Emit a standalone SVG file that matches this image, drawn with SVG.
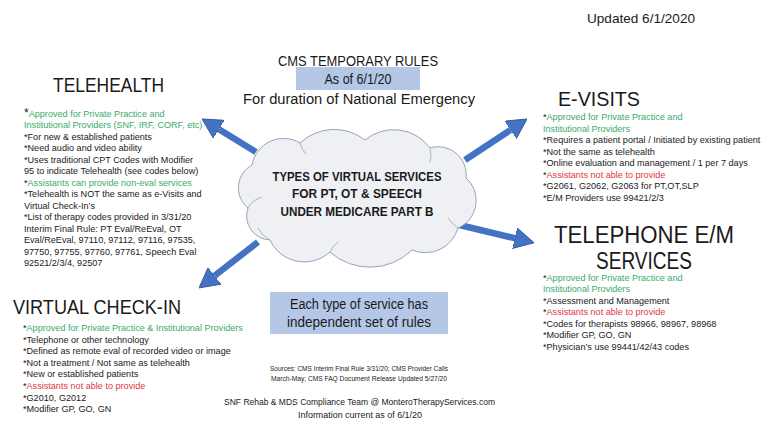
<svg xmlns="http://www.w3.org/2000/svg" width="768" height="432" viewBox="0 0 768 432">
<style>
text{font-family:"Liberation Sans",Arial,sans-serif;fill:#1a1a1a}
.b{font-size:9.1px}
.g{fill:#3aaa6a}
.r{fill:#e0393e}
.h{font-size:21px}
.c{text-anchor:middle}
.cl{font-size:12px;font-weight:bold;text-anchor:middle}
.arr{stroke:#4472c4;stroke-width:6.5;fill:none;marker-end:url(#ah)}
.box{fill:#b4c7e7}
</style>
<defs>
<marker id="ah" viewBox="0 0 10 10" refX="0" refY="5" markerWidth="3.05" markerHeight="3.25" preserveAspectRatio="none" orient="auto">
<path d="M0,0 L10,5 L0,10 Z" fill="#4472c4" stroke="#2f528f" stroke-width="0.4"/>
</marker>
</defs>
<rect width="768" height="432" fill="#ffffff"/>

<g id="connectors">
<line class="arr" x1="256" y1="152" x2="218.9" y2="129.3"/>
<line class="arr" x1="258" y1="242" x2="214.6" y2="275.8"/>
<line class="arr" x1="465" y1="160" x2="510.5" y2="129.9"/>
<line class="arr" x1="447" y1="222" x2="514.8" y2="238.2"/>
</g>

<g id="header">
<text x="641" y="23" font-size="13" class="c" textLength="108" lengthAdjust="spacingAndGlyphs">Updated 6/1/2020</text>
<text x="358" y="66" font-size="14" class="c" textLength="160" lengthAdjust="spacingAndGlyphs">CMS TEMPORARY RULES</text>
<rect class="box" x="296" y="67" width="124" height="23"/>
<text x="358" y="84" font-size="14" class="c" textLength="67" lengthAdjust="spacingAndGlyphs">As of 6/1/20</text>
<text x="359" y="104" font-size="15.5" class="c" textLength="232" lengthAdjust="spacingAndGlyphs">For duration of National Emergency</text>
</g>

<g id="cloud">
<path d="M252,165 A32,32 0 0 1 300,143 A50,50 0 0 1 365,140 A45,45 0 0 1 430,148 A28,28 0 0 1 466,178 A30,30 0 0 1 458,228 A34,34 0 0 1 412,250 A60,60 0 0 1 330,252 A38,38 0 0 1 270,240 A24,24 0 0 1 248,208 A26,26 0 0 1 252,165 Z" fill="#eef0f4" stroke="#9aa3b5" stroke-width="1"/>
<path d="M270,240 Q262,236 258,228 M248,208 Q252,200 262,197 M300,143 Q302,150 306,154 M430,148 Q432,156 430,162 M458,228 Q452,224 448,218 M330,252 Q333,246 338,242" fill="none" stroke="#9aa3b5" stroke-width="0.8"/>
<text class="cl" x="357" y="181" textLength="169" lengthAdjust="spacingAndGlyphs">TYPES OF VIRTUAL SERVICES</text>
<text class="cl" x="357" y="198" textLength="130" lengthAdjust="spacingAndGlyphs">FOR PT, OT &amp; SPEECH</text>
<text class="cl" x="357" y="216" textLength="153" lengthAdjust="spacingAndGlyphs">UNDER MEDICARE PART B</text>
</g>

<g id="telehealth">
<text class="h" x="53" y="92" textLength="111" lengthAdjust="spacingAndGlyphs">TELEHEALTH</text>
<text class="b" x="24" y="116.5"><tspan font-size="12">*</tspan><tspan class="g">Approved for Private Practice and</tspan></text>
<text class="b g" x="24" y="128">Institutional Providers (SNF, IRF, CORF, etc)</text>
<text class="b" x="24" y="139.5">*For new &amp; established patients</text>
<text class="b" x="24" y="151">*Need audio and video ability</text>
<text class="b" x="24" y="162.5">*Uses traditional CPT Codes with Modifier</text>
<text class="b" x="24" y="174">95 to indicate Telehealth (see codes below)</text>
<text class="b" x="24" y="185.5">*<tspan class="g">Assistants can provide non-eval services</tspan></text>
<text class="b" x="24" y="197">*Telehealth is NOT the same as e-Visits and</text>
<text class="b" x="24" y="208.5">Virtual Check-In’s</text>
<text class="b" x="24" y="220">*List of therapy codes provided in 3/31/20</text>
<text class="b" x="24" y="231.5">Interim Final Rule:  PT Eval/ReEval, OT</text>
<text class="b" x="24" y="243">Eval/ReEval, 97110, 97112, 97116, 97535,</text>
<text class="b" x="24" y="254.5">97750, 97755, 97760, 97761, Speech Eval</text>
<text class="b" x="24" y="266">92521/2/3/4, 92507</text>
</g>

<g id="evisits">
<text class="h" x="558" y="106" textLength="82" lengthAdjust="spacingAndGlyphs">E-VISITS</text>
<text class="b" x="543" y="120">*<tspan class="g">Approved for Private Practice and</tspan></text>
<text class="b g" x="543" y="131.5">Institutional Providers</text>
<text class="b" x="543" y="143">*Requires a patient portal / Initiated by existing patient</text>
<text class="b" x="543" y="154.5">*Not the same as telehealth</text>
<text class="b" x="543" y="166">*Online evaluation and management / 1 per 7 days</text>
<text class="b" x="543" y="177.5">*<tspan class="r">Assistants not able to provide</tspan></text>
<text class="b" x="543" y="189">*G2061, G2062, G2063 for PT,OT,SLP</text>
<text class="b" x="543" y="200.5">*E/M Providers use 99421/2/3</text>
</g>

<g id="telephone">
<text x="644" y="243" font-size="23" class="c" textLength="180" lengthAdjust="spacingAndGlyphs">TELEPHONE E/M</text>
<text x="644" y="269" font-size="23" class="c" textLength="96" lengthAdjust="spacingAndGlyphs">SERVICES</text>
<text class="b" x="543" y="280.5">*<tspan class="g">Approved for Private Practice and</tspan></text>
<text class="b g" x="543" y="292">Institutional Providers</text>
<text class="b" x="543" y="303.5">*Assessment and Management</text>
<text class="b" x="543" y="315">*<tspan class="r">Assistants not able to provide</tspan></text>
<text class="b" x="543" y="326.5">*Codes for therapists 98966, 98967, 98968</text>
<text class="b" x="543" y="338">*Modifier GP, GO, GN</text>
<text class="b" x="543" y="349.5">*Physician’s use 99441/42/43 codes</text>
</g>

<g id="virtual-checkin">
<text class="h" x="13" y="314" textLength="168" lengthAdjust="spacingAndGlyphs">VIRTUAL CHECK-IN</text>
<text class="b" x="23" y="331">*<tspan class="g">Approved for Private Practice &amp; Institutional Providers</tspan></text>
<text class="b" x="23" y="342.6">*Telephone or other technology</text>
<text class="b" x="23" y="354.2">*Defined as remote eval of recorded video or image</text>
<text class="b" x="23" y="365.8">*Not a treatment / Not same as telehealth</text>
<text class="b" x="23" y="377.4">*New or established patients</text>
<text class="b" x="23" y="389">*<tspan class="r">Assistants not able to provide</tspan></text>
<text class="b" x="23" y="400.6">*G2010, G2012</text>
<text class="b" x="23" y="412.2">*Modifier GP, GO, GN</text>
</g>

<g id="rules-note">
<rect class="box" x="270" y="292" width="178" height="42"/>
<text x="359" y="309" font-size="14" class="c" textLength="138" lengthAdjust="spacingAndGlyphs">Each type of service has</text>
<text x="359" y="327" font-size="14" class="c" textLength="144" lengthAdjust="spacingAndGlyphs">independent set of rules</text>
</g>

<g id="sources">
<text x="359" y="371" font-size="6.5" class="c" textLength="178" lengthAdjust="spacingAndGlyphs">Sources: CMS Interim Final Rule 3/31/20; CMS Provider Calls</text>
<text x="359" y="381" font-size="6.5" class="c" textLength="176" lengthAdjust="spacingAndGlyphs">March-May; CMS FAQ Document Release Updated 5/27/20</text>
</g>

<g id="footer">
<text x="359.5" y="405" font-size="9.5" class="c" textLength="271" lengthAdjust="spacingAndGlyphs">SNF Rehab &amp; MDS Compliance Team @ MonteroTherapyServices.com</text>
<text x="360" y="418" font-size="9.5" class="c" textLength="124" lengthAdjust="spacingAndGlyphs">Information current as of 6/1/20</text>
</g>
</svg>
